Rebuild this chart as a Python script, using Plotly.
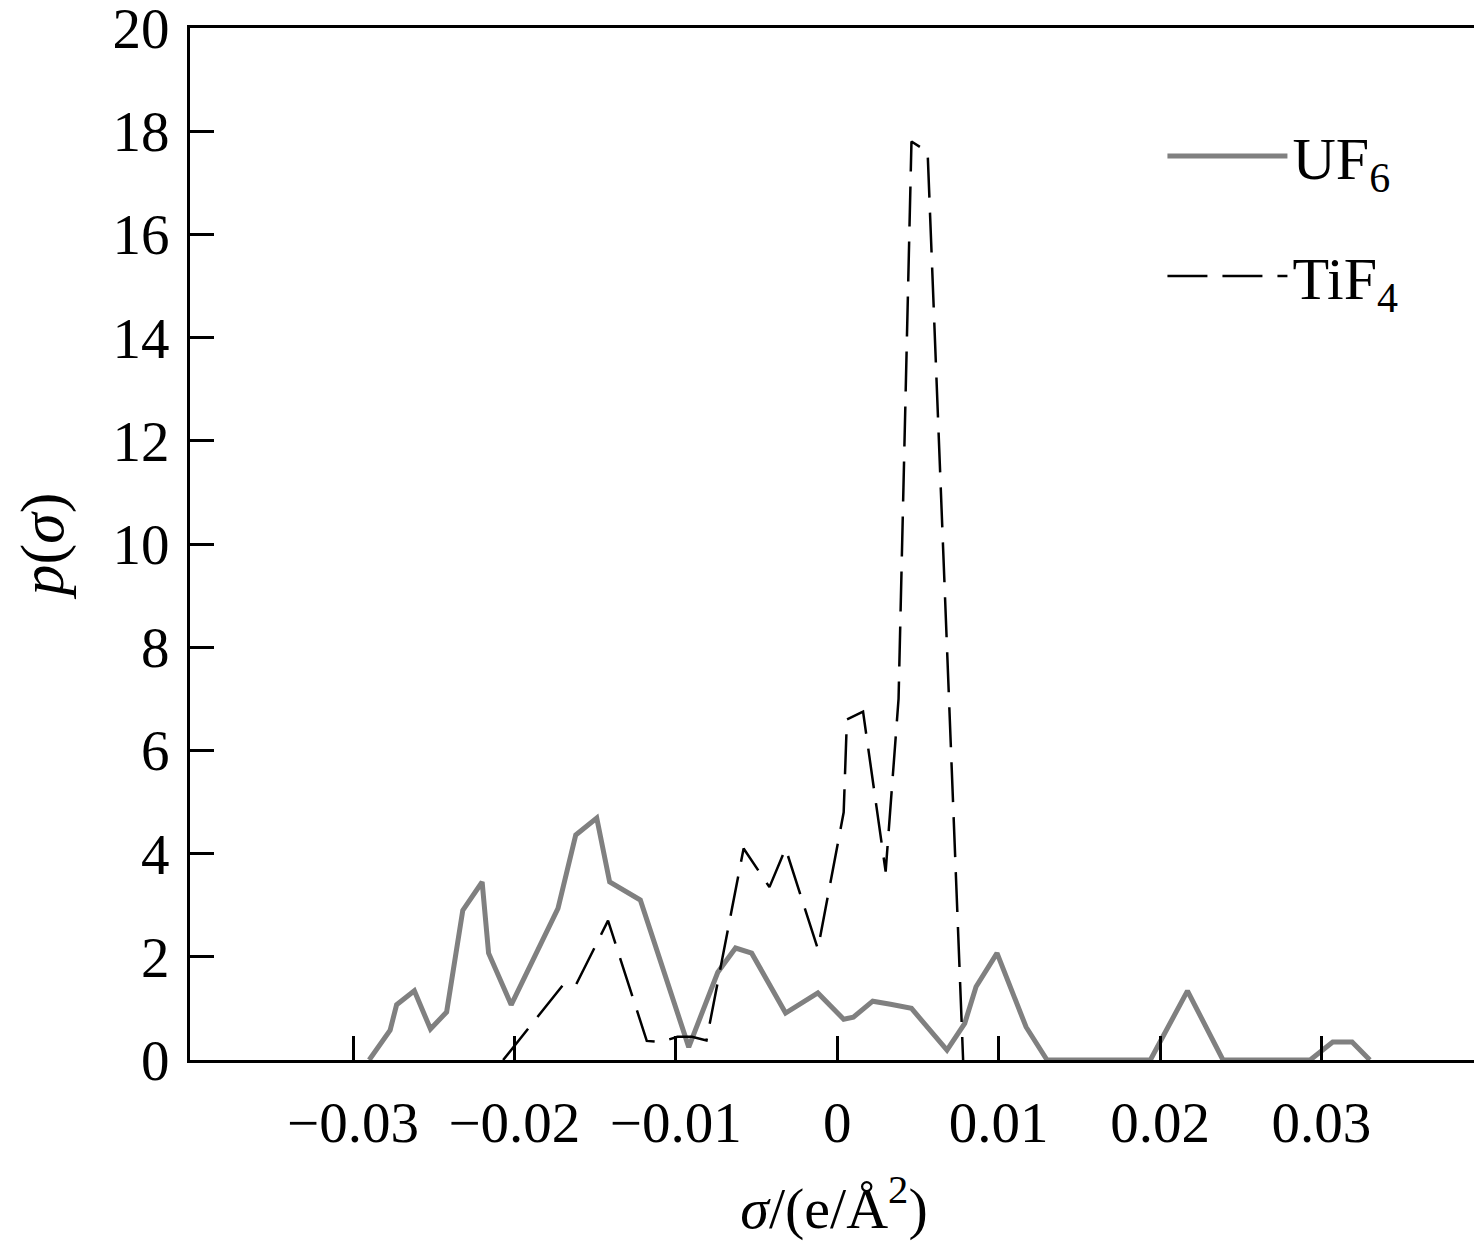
import plotly.graph_objects as go

# UF6 sigma-profile (solid grey)
uf6_sigma = [-0.0290, -0.0277, -0.0273, -0.0262, -0.0252, -0.0242, -0.0232, -0.0220,
             -0.0216, -0.0202, -0.0173, -0.0162, -0.0149, -0.0141, -0.0122, -0.0092,
             -0.0074, -0.0063, -0.0053, -0.0032, -0.0012, 0.0004, 0.0010, 0.0022,
             0.0033, 0.0046, 0.0068, 0.0079, 0.0086, 0.0099, 0.0117, 0.0130,
             0.0194, 0.0217, 0.0239, 0.0293, 0.0307, 0.0319, 0.0330]
uf6_p = [0.0, 0.58, 1.07, 1.34, 0.6, 0.93, 2.9, 3.45,
         2.07, 1.07, 2.94, 4.36, 4.69, 3.45, 3.1, 0.25,
         1.7, 2.17, 2.07, 0.91, 1.30, 0.79, 0.83, 1.14,
         1.08, 1.0, 0.19, 0.71, 1.42, 2.07, 0.64, 0.0,
         0.0, 1.34, 0.0, 0.0, 0.35, 0.35, 0.0]

# TiF4 sigma-profile (dashed black)
tif4_sigma = [-0.0207, -0.0170, -0.0162, -0.0142, -0.0118, -0.0109, -0.0099, -0.0090,
              -0.0081, -0.0058, -0.0042, -0.0032, -0.0012, 0.0004, 0.0006, 0.0016,
              0.0030, 0.0038, 0.0046, 0.0056, 0.0078]
tif4_p = [0.0, 1.45, 1.45, 2.7, 0.37, 0.35, 0.45, 0.45,
          0.38, 4.1, 3.35, 4.1, 2.15, 4.8, 6.6, 6.75,
          3.65, 7.0, 17.8, 17.6, 0.0]

x_ticks = [-0.03, -0.02, -0.01, 0, 0.01, 0.02, 0.03]
x_ticktext = ["\u22120.03", "\u22120.02", "\u22120.01", "0", "0.01", "0.02", "0.03"]
y_ticks = [0, 2, 4, 6, 8, 10, 12, 14, 16, 18, 20]

FONT = "Liberation Serif, Times New Roman, serif"

fig = go.Figure()
fig.add_trace(go.Scatter(x=uf6_sigma, y=uf6_p, mode="lines", name="UF<sub>6</sub>",
                         legendgroup="a",
                         line=dict(color="#808080", width=5)))
fig.add_trace(go.Scatter(x=tif4_sigma, y=tif4_p, mode="lines", name="TiF<sub>4</sub>",
                         legendgroup="b",
                         line=dict(color="black", width=2.5, dash="40px,15px")))

axis_common = dict(showline=True, linecolor="black", linewidth=3, mirror=True,
                   ticks="inside", ticklen=24, tickwidth=3, tickcolor="black",
                   showgrid=False, zeroline=False, ticklabeloverflow="allow",
                   automargin=False,
                   tickfont=dict(family=FONT, size=57, color="black"))

fig.update_xaxes(range=[-0.0401, 0.0397], tickvals=x_ticks, ticktext=x_ticktext,
                 title=dict(text="<i>σ</i>/(e/Å<sup>2</sup>)",
                            font=dict(family=FONT, size=58, color="black"), standoff=34),
                 ticklabelstandoff=11, **axis_common)
fig.update_yaxes(range=[0, 20], tickvals=y_ticks,
                 title=dict(text="<i>p</i>(<i>σ</i>)",
                            font=dict(family=FONT, size=62, color="black"), standoff=40),
                 ticklabelstandoff=6, **axis_common)

fig.update_layout(
    width=1474, height=1246,
    margin=dict(l=182, r=4, t=20, b=194, autoexpand=False),
    plot_bgcolor="white", paper_bgcolor="white",
    showlegend=True,
    legend=dict(x=0.755, y=0.92, xanchor="left", yanchor="top",
                bgcolor="rgba(0,0,0,0)", itemwidth=120, tracegroupgap=39,
                font=dict(family=FONT, size=60, color="black")),
)

fig.write_html("out.html")
